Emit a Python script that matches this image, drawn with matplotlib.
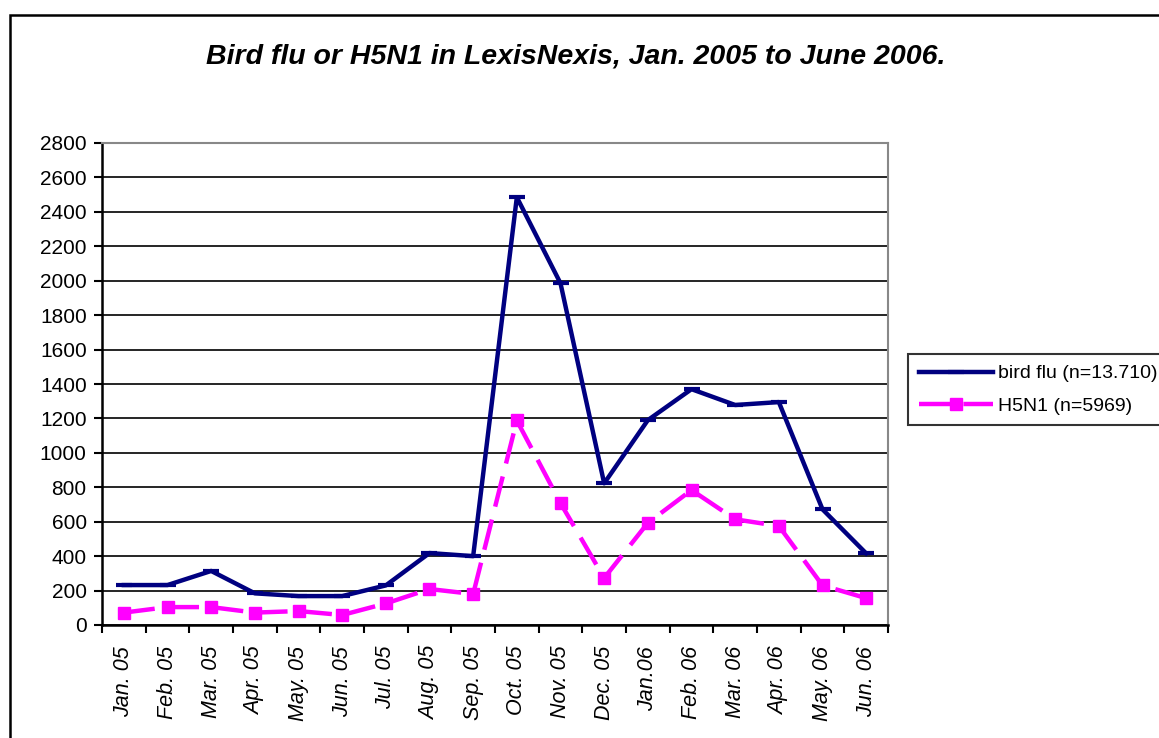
import matplotlib.pyplot as plt
from matplotlib.patches import Rectangle

# Data
months = ["Jan. 05", "Feb. 05", "Mar. 05", "Apr. 05", "May. 05", "Jun. 05",
          "Jul. 05", "Aug. 05", "Sep. 05", "Oct. 05", "Nov. 05", "Dec. 05",
          "Jan.06", "Feb. 06", "Mar. 06", "Apr. 06", "May. 06", "Jun. 06"]
bird_flu = [232, 232, 314, 184, 168, 168, 230, 418, 400, 2485, 1985, 823,
            1190, 1370, 1278, 1295, 672, 416]
h5n1 = [72, 104, 104, 72, 81, 58, 125, 209, 180, 1188, 708, 273,
        593, 784, 614, 575, 230, 156]
yticks = list(range(0, 2801, 200))

plt.rcParams["font.family"] = ["Liberation Sans", "DejaVu Sans"]

fig = plt.figure(figsize=(11.59, 7.38), dpi=100)
ax = fig.add_axes([102 / 1159, 1 - 625 / 738, (888 - 102) / 1159, (625 - 143) / 738])

x = range(len(months))
ax.plot(x, bird_flu, color="#000080", linewidth=3.2, marker="_", markersize=12,
        markeredgewidth=3, label="bird flu (n=13.710)", zorder=3)
ax.plot(x, h5n1, color="#FF00FF", linewidth=3.2, linestyle=(0, (7, 3)),
        marker="s", markersize=8, label="H5N1 (n=5969)", zorder=3)

ax.set_xlim(-0.5, len(months) - 0.5)
ax.set_ylim(0, 2800)
ax.set_yticks(yticks)
ax.set_yticklabels([str(v) for v in yticks], fontsize=15)
ax.yaxis.grid(True, color="black", linewidth=1.2)
ax.set_axisbelow(True)

# ticks between categories, labels at the categories
ax.set_xticks([i - 0.5 for i in range(len(months) + 1)])
ax.set_xticklabels([])
ax.set_xticks(list(x), minor=True)
ax.set_xticklabels(months, minor=True, rotation=90, fontsize=15.5, style="italic")
ax.tick_params(axis="x", which="minor", length=0, pad=15)
ax.tick_params(axis="x", which="major", length=6, width=1.5, direction="out")
ax.tick_params(axis="y", length=6, width=1.5, direction="out", pad=5)

for side in ["left", "bottom"]:
    ax.spines[side].set_linewidth(1.8)
    ax.spines[side].set_color("black")
for side in ["right", "top"]:
    ax.spines[side].set_linewidth(1.5)
    ax.spines[side].set_color("#888888")

fig.text(576 / 1159, 1 - 57 / 738, "Bird flu or H5N1 in LexisNexis, Jan. 2005 to June 2006.",
         ha="center", va="center", fontsize=20.5, fontweight="bold", style="italic")

leg = fig.legend(loc="upper left", bbox_to_anchor=(908 / 1159, 1 - 354 / 738),
                 fontsize=14, frameon=True, fancybox=False, handlelength=3.8,
                 handletextpad=0.3, borderpad=0.55, labelspacing=0.75,
                 borderaxespad=0)
leg.get_frame().set_edgecolor("black")
leg.get_frame().set_linewidth(1.5)

# outer chart border
fig.patches.append(Rectangle((10 / 1159, -0.1), 1.2, 1 - 15 / 738 + 0.1,
                             transform=fig.transFigure, fill=False,
                             edgecolor="black", linewidth=1.8))

fig.savefig("out.png", dpi=100)
